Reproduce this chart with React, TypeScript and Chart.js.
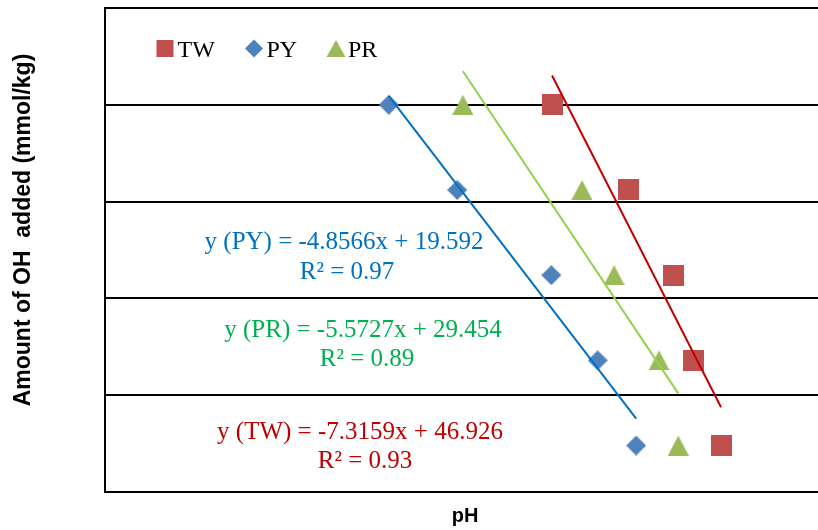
import React, { useEffect, useRef } from "react";
import { Chart, registerables } from "chart.js";

Chart.register(...registerables);

// ---- data ----
const amountAdded = [0, -4.4, -8.8, -13.2, -17.6]; // mmol/kg, shared by all series
const phTW = [6.27, 7.34, 7.97, 8.26, 8.64];
const phPY = [3.98, 4.94, 6.26, 6.91, 7.45];
const phPR = [5.02, 6.69, 7.14, 7.77, 8.04];
const seriesNames = ["TW", "PY", "PR"];
const eqSlopes = [-7.3159, -4.8566, -5.5727];
const eqIntercepts = [46.926, 19.592, 29.454];
const eqR2 = [0.93, 0.97, 0.89];
const xRange = [0, 10];
const yRange = [-20, 5];
const yStep = 5;

const markerColors = ["#C0504D", "#4F81BD", "#9BBB59"];
const lineColors = ["#C00000", "#0070C0", "#92D050"];
const eqColors = ["#C00000", "#0070C0", "#00B050"];
const shapes = ["square", "diamond", "triangle"];

function linreg(xs: number[], ys: number[]) {
  const n = xs.length;
  const mx = xs.reduce((a, b) => a + b, 0) / n;
  const my = ys.reduce((a, b) => a + b, 0) / n;
  let sxy = 0;
  let sxx = 0;
  for (let i = 0; i < n; i++) {
    sxy += (xs[i] - mx) * (ys[i] - my);
    sxx += (xs[i] - mx) * (xs[i] - mx);
  }
  const m = sxy / sxx;
  return { m, b: my - m * mx };
}

function drawShape(ctx: CanvasRenderingContext2D, shape: string, cx: number, cy: number, w: number, h: number) {
  ctx.beginPath();
  if (shape === "square") {
    ctx.rect(cx - w / 2, cy - h / 2, w, h);
  } else if (shape === "diamond") {
    ctx.moveTo(cx, cy - h / 2);
    ctx.lineTo(cx + w / 2, cy);
    ctx.lineTo(cx, cy + h / 2);
    ctx.lineTo(cx - w / 2, cy);
    ctx.closePath();
  } else {
    ctx.moveTo(cx, cy - h / 2);
    ctx.lineTo(cx + w / 2, cy + h / 2);
    ctx.lineTo(cx - w / 2, cy + h / 2);
    ctx.closePath();
  }
  ctx.fill();
}

function makeMarker(shape: string, color: string, w: number, h: number) {
  const c = document.createElement("canvas");
  c.width = w;
  c.height = h;
  const ctx = c.getContext("2d") as CanvasRenderingContext2D;
  ctx.fillStyle = color;
  drawShape(ctx, shape, w / 2, h / 2, w, h);
  return c;
}

const fmtSlope = (m: number) => (m < 0 ? "-" : "") + Math.abs(m).toFixed(4);

const overlayPlugin = {
  id: "overlay",
  afterDraw(chart: any) {
    const ctx: CanvasRenderingContext2D = chart.ctx;
    ctx.save();
    // legend
    const legendX = [165, 254, 336];
    const legendTextX = [177.5, 266.5, 348];
    const legendSize = [[17, 17], [18, 18], [19, 17]];
    ctx.font = "24px 'Liberation Serif', 'Times New Roman', serif";
    ctx.textBaseline = "alphabetic";
    ctx.textAlign = "left";
    for (let i = 0; i < seriesNames.length; i++) {
      ctx.fillStyle = markerColors[i];
      drawShape(ctx, shapes[i], legendX[i], 48.5, legendSize[i][0], legendSize[i][1]);
      ctx.fillStyle = "#000";
      ctx.fillText(seriesNames[i], legendTextX[i], 57);
    }
    // equations
    const eqPos = [
      [360, 439, 365, 468],
      [344, 249, 347, 279],
      [363, 337, 367, 366],
    ];
    ctx.font = "25px 'Liberation Serif', 'Times New Roman', serif";
    ctx.textAlign = "center";
    for (let i = 0; i < seriesNames.length; i++) {
      ctx.fillStyle = eqColors[i];
      const p = eqPos[i];
      ctx.fillText(
        `y (${seriesNames[i]}) = ${fmtSlope(eqSlopes[i])}x + ${eqIntercepts[i]}`,
        p[0],
        p[1]
      );
      ctx.fillText(`R\u00B2 = ${eqR2[i].toFixed(2)}`, p[2], p[3]);
    }
    // axis titles
    ctx.fillStyle = "#000";
    ctx.font = "bold 20px 'Liberation Sans', Arial, sans-serif";
    ctx.textAlign = "center";
    ctx.textBaseline = "middle";
    ctx.fillText("pH", 465, 516);
    ctx.translate(24, 230);
    ctx.rotate(-Math.PI / 2);
    ctx.font = "bold 23px 'Liberation Sans', Arial, sans-serif";
    ctx.fillText("Amount of OH  added (mmol/kg)", 0, 0);
    ctx.restore();
  },
};

export default function App() {
  const ref = useRef<HTMLCanvasElement | null>(null);
  useEffect(() => {
    if (!ref.current) return;
    const phs = [phTW, phPY, phPR];
    const markers = [
      makeMarker("square", markerColors[0], 21, 21),
      makeMarker("diamond", markerColors[1], 20, 20),
      makeMarker("triangle", markerColors[2], 21, 20),
    ];
    const datasets: any[] = [];
    phs.forEach((xs, i) => {
      const { m, b } = linreg(xs, amountAdded);
      const lo = Math.min(...xs);
      const hi = Math.max(...xs);
      datasets.push({
        type: "line",
        label: seriesNames[i] + " trend",
        data: [
          { x: lo, y: m * lo + b },
          { x: hi, y: m * hi + b },
        ],
        borderColor: lineColors[i],
        borderWidth: 2,
        pointRadius: 0,
        fill: false,
        order: 0,
      });
    });
    phs.forEach((xs, i) => {
      datasets.push({
        type: "scatter",
        label: seriesNames[i],
        data: xs.map((x, j) => ({ x, y: amountAdded[j] })),
        pointStyle: markers[i],
        backgroundColor: markerColors[i],
        borderWidth: 0,
        order: 1,
      });
    });
    const chart = new Chart(ref.current, {
      type: "scatter",
      data: { datasets },
      options: {
        responsive: false,
        animation: false,
        events: [],
        layout: { autoPadding: false, padding: { left: 105, top: 8, right: 0, bottom: 38 } },
        plugins: { legend: { display: false }, tooltip: { enabled: false } },
        scales: {
          x: {
            type: "linear",
            min: xRange[0],
            max: xRange[1],
            ticks: { display: false },
            grid: { display: false, drawTicks: false },
            border: { display: true, color: "#000", width: 2 },
          },
          y: {
            type: "linear",
            min: yRange[0],
            max: yRange[1],
            ticks: { display: false, stepSize: yStep },
            grid: { color: "#000", lineWidth: 2, drawTicks: false },
            border: { display: true, color: "#000", width: 2 },
          },
        },
      },
      plugins: [overlayPlugin],
    });
    return () => chart.destroy();
  }, []);
  return (
    <div style={{ position: "absolute", left: 0, top: 0, width: 818, height: 530, background: "#fff" }}>
      <canvas ref={ref} width={818} height={530} />
    </div>
  );
}
